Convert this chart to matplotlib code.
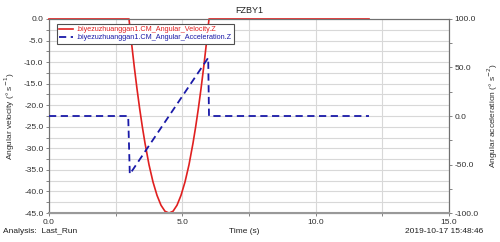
#!/usr/bin/env python3
"""
Angular velocity / acceleration of FZBY1 (Adams-style post-processor plot)
"""

import matplotlib
matplotlib.use("Agg")
import matplotlib.pyplot as plt
from matplotlib.ticker import MultipleLocator

plt.rcParams['font.family'] = ['Liberation Sans', 'DejaVu Sans']

# velocity curve
vel_time = [0.0, 3.0, 3.1, 3.2, 3.3, 3.4, 3.5, 3.6, 3.75, 3.9, 4.05, 4.2, 4.35,
            4.5, 4.65, 4.8, 4.95, 5.1, 5.25, 5.4, 5.5, 5.6, 5.7, 5.8, 5.9,
            6.0, 12.0]
vel_value = [0.0, 0.0, -5.8, -11.2, -16.2, -20.8, -25.0, -28.8, -33.8, -37.8,
             -40.9, -43.2, -44.6, -45.0, -44.6, -43.2, -40.9, -37.8, -33.8,
             -28.8, -25.0, -20.8, -16.2, -11.2, -5.8, 0.0, 0.0]

# acceleration curve
acc_time = [0.0, 2.97, 3.03, 5.97, 6.0, 12.0]
acc_value = [0.0, 0.0, -60.0, 60.0, 0.0, 0.0]

vel_name = '.biyezuzhuanggan1.CM_Angular_Velocity.Z'
acc_name = '.biyezuzhuanggan1.CM_Angular_Acceleration.Z'

red = '#e02020'
blue = '#1a1aa8'
spine_col = '#707070'
fs = 6


def main():
    fig = plt.figure(figsize=(5.0, 2.42), dpi=100)
    ax = fig.add_axes([0.098, 0.1198, 0.800, 0.8017])
    ax2 = ax.twinx()

    ax.set_xlim(0, 15)
    ax.set_ylim(-45, 0)
    ax2.set_ylim(-100, 100)

    ax.xaxis.set_major_locator(MultipleLocator(5))
    ax.xaxis.set_minor_locator(MultipleLocator(2.5))
    ax.yaxis.set_major_locator(MultipleLocator(5))
    ax.yaxis.set_minor_locator(MultipleLocator(2.5))
    ax2.yaxis.set_major_locator(MultipleLocator(50))
    ax2.yaxis.set_minor_locator(MultipleLocator(25))

    ax.grid(True, which='both', color='#d8d8d8', linewidth=0.8)
    ax.set_axisbelow(True)

    ax.xaxis.set_major_formatter(plt.FormatStrFormatter('%.1f'))
    ax.yaxis.set_major_formatter(plt.FormatStrFormatter('%.1f'))
    ax2.yaxis.set_major_formatter(plt.FormatStrFormatter('%.1f'))

    for a in (ax, ax2):
        a.tick_params(which='both', labelsize=fs, colors='#303030',
                      length=2.5, width=0.6, pad=1.5)
        a.tick_params(which='both', color=spine_col)
        for s in a.spines.values():
            s.set_color(spine_col)
            s.set_linewidth(0.8)
    ax2.spines['bottom'].set_linewidth(1.5)
    ax2.spines['bottom'].set_color('#999999')

    l1, = ax.plot(vel_time, vel_value, color=red, linewidth=1.2,
                  clip_on=False, zorder=3)
    l2, = ax2.plot(acc_time, acc_value, color=blue, linewidth=1.3,
                   linestyle=(0, (4, 2.5)), clip_on=False, zorder=3)

    leg = ax2.legend([l1, l2], [vel_name, acc_name], loc='upper left',
                     bbox_to_anchor=(0.02, 0.974), borderaxespad=0,
                     fontsize=5.2, handlelength=1.9, handletextpad=0.5,
                     borderpad=0.3, labelspacing=0.15, fancybox=False,
                     framealpha=1.0, edgecolor='#505050')
    leg.get_frame().set_linewidth(0.8)
    leg.get_texts()[0].set_color(red)
    leg.get_texts()[1].set_color(blue)

    ax.set_ylabel('Angular velocity (° s$^{-1}$)', fontsize=fs,
                  color='#303030', labelpad=5)
    ax2.set_ylabel('Angular acceleration (° s$^{-2}$)', fontsize=fs,
                   color='#303030', labelpad=5)

    fig.text(0.498, 0.958, 'FZBY1', fontsize=fs + 0.5, ha='center',
             va='center', color='#202020')
    fig.text(0.006, 0.045, 'Analysis:  Last_Run', fontsize=fs, ha='left',
             va='center', color='#202020')
    fig.text(0.489, 0.045, 'Time (s)', fontsize=fs, ha='center',
             va='center', color='#202020')
    fig.text(0.966, 0.045, '2019-10-17 15:48:46', fontsize=fs, ha='right',
             va='center', color='#202020')

    fig.savefig('out.png', dpi=100)


if __name__ == "__main__":
    main()
